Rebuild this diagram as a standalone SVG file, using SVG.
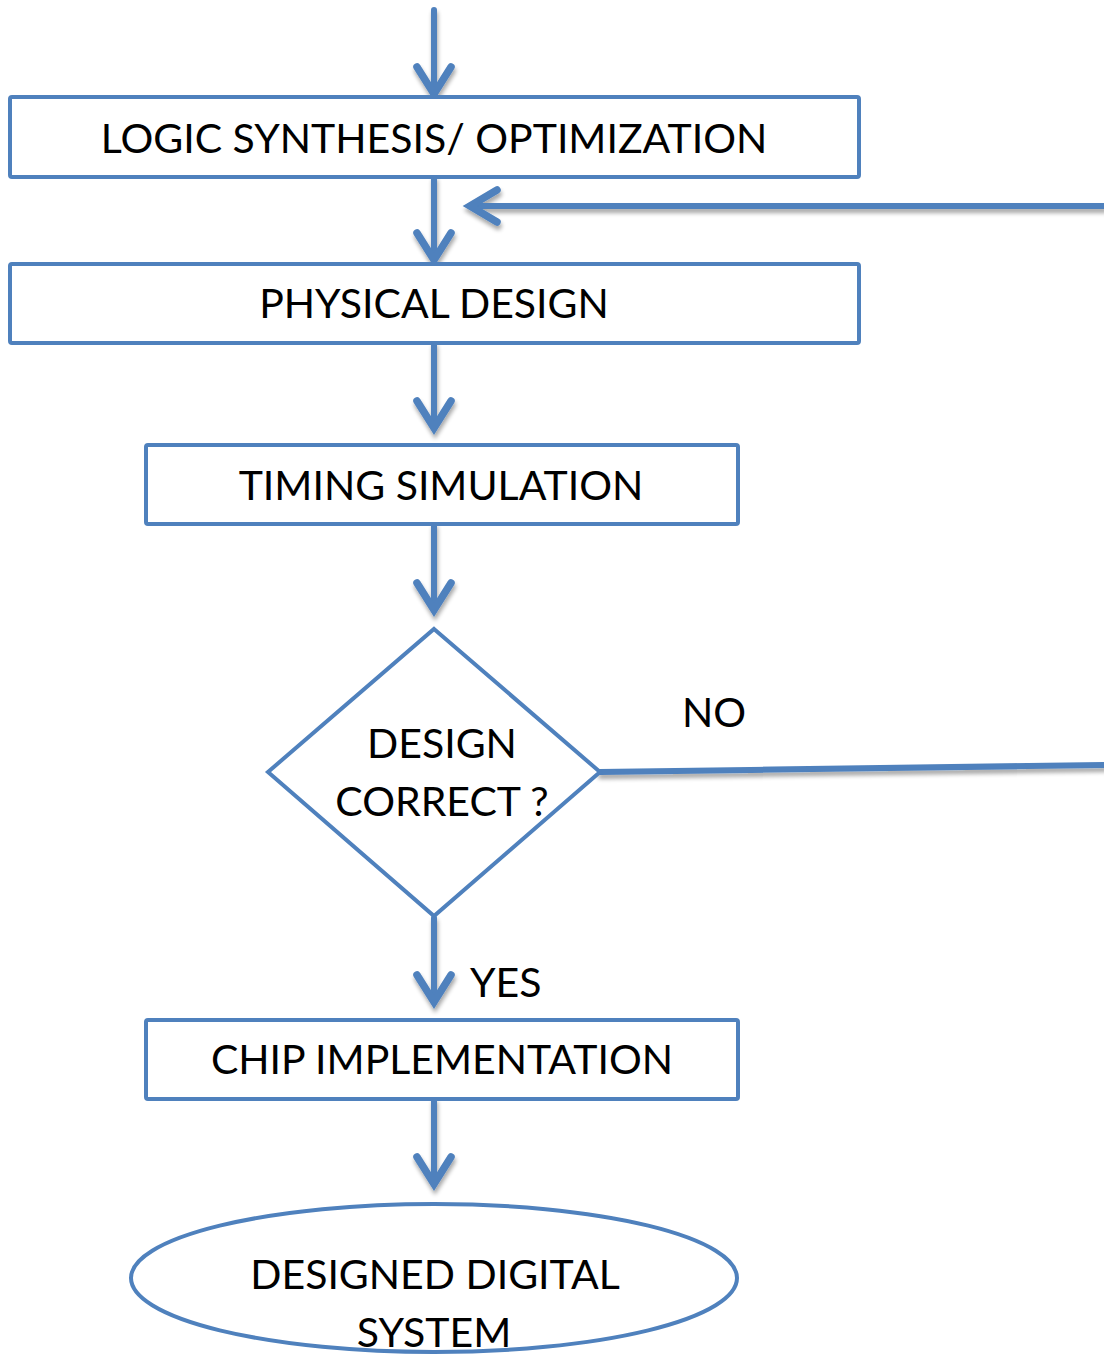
<svg xmlns="http://www.w3.org/2000/svg" width="1104" height="1354" viewBox="0 0 1104 1354">
  <defs>
    <filter id="shadow" x="-10%" y="-10%" width="120%" height="140%">
      <feGaussianBlur in="SourceAlpha" stdDeviation="2"/>
      <feOffset dx="1" dy="4" result="b"/>
      <feComponentTransfer><feFuncA type="linear" slope="0.35"/></feComponentTransfer>
      <feMerge><feMergeNode/><feMergeNode in="SourceGraphic"/></feMerge>
    </filter>
  </defs>
  <style>
    .box { fill: #ffffff; stroke: #4f81bd; stroke-width: 4; }
    .line { fill: none; stroke: #4f81bd; stroke-width: 6; stroke-linecap: round; stroke-linejoin: round; }
    .head { fill: none; stroke: #4f81bd; stroke-width: 7.5; stroke-linecap: round; stroke-linejoin: miter; }
    .label { font-family: Lato, "Open Sans", "Liberation Sans", sans-serif; font-size: 41px; fill: #000000; text-anchor: middle; }
    .tag { font-family: Lato, "Open Sans", "Liberation Sans", sans-serif; font-size: 41px; fill: #000000; }
  </style>
  <rect width="1104" height="1354" fill="#ffffff"/>

  <g id="connectors" filter="url(#shadow)">
    <!-- entry into logic synthesis -->
    <path class="line" d="M434 10 V94"/>
    <path class="head" d="M417 67 L434 94 L451 67"/>
    <!-- logic synthesis to physical design -->
    <path class="line" d="M434 178 V260"/>
    <path class="head" d="M417 233 L434 260 L451 233"/>
    <!-- feedback path from the NO branch -->
    <path class="line" d="M1104 206 H470"/>
    <path class="head" d="M497 190 L470 206 L497 222"/>
    <!-- physical design to timing simulation -->
    <path class="line" d="M434 344 V428"/>
    <path class="head" d="M417 401 L434 428 L451 401"/>
    <!-- timing simulation to decision -->
    <path class="line" d="M434 525 V610"/>
    <path class="head" d="M417 583 L434 610 L451 583"/>
    <!-- NO branch -->
    <path class="line" d="M600 772 L1104 765"/>
    <!-- YES branch -->
    <path class="line" d="M434 918 V1002"/>
    <path class="head" d="M417 975 L434 1002 L451 975"/>
    <!-- chip implementation to final system -->
    <path class="line" d="M434 1100 V1184"/>
    <path class="head" d="M417 1157 L434 1184 L451 1157"/>
  </g>

  <g id="logic-synthesis">
    <rect class="box" x="10" y="97" width="849" height="80" rx="2"/>
    <text class="label" x="434" y="153">LOGIC SYNTHESIS/ OPTIMIZATION</text>
  </g>

  <g id="physical-design">
    <rect class="box" x="10" y="264" width="849" height="79" rx="2"/>
    <text class="label" x="434" y="318">PHYSICAL DESIGN</text>
  </g>

  <g id="timing-simulation">
    <rect class="box" x="146" y="445" width="592" height="79" rx="2"/>
    <text class="label" x="441" y="500">TIMING SIMULATION</text>
  </g>

  <g id="design-correct">
    <polygon class="box" points="434,629 600,772 434,916 268,772"/>
    <text class="label" x="442" y="758">DESIGN</text>
    <text class="label" x="442" y="816">CORRECT ?</text>
  </g>

  <g id="branch-labels">
    <text class="tag" x="682" y="727">NO</text>
    <text class="tag" x="470" y="997">YES</text>
  </g>

  <g id="chip-implementation">
    <rect class="box" x="146" y="1020" width="592" height="79" rx="2"/>
    <text class="label" x="442" y="1074">CHIP IMPLEMENTATION</text>
  </g>

  <g id="designed-system">
    <ellipse class="box" cx="434" cy="1278" rx="303" ry="74"/>
    <text class="label" x="435" y="1289">DESIGNED DIGITAL</text>
    <text class="label" x="434" y="1347">SYSTEM</text>
  </g>
</svg>
